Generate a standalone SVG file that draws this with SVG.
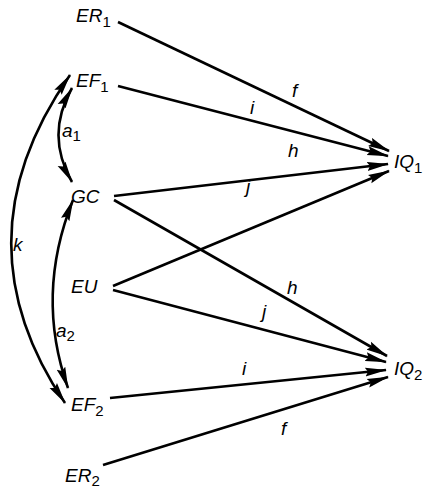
<svg xmlns="http://www.w3.org/2000/svg" width="428" height="490" viewBox="0 0 428 490">
<defs>
<marker id="ah" markerUnits="userSpaceOnUse" markerWidth="22" markerHeight="10" refX="21" refY="4.5" orient="auto-start-reverse" viewBox="0 0 22 9">
<path d="M0,0 L22,4.5 L0,9 L3,4.5 Z" fill="#000"/>
</marker>
</defs>
<style>
.t{font-family:"Liberation Sans",Arial,sans-serif;font-style:italic;font-size:19px;fill:#000}
.s{font-size:15px;font-style:normal}
.l{font-family:"Liberation Sans",Arial,sans-serif;font-style:italic;font-size:19px;fill:#000}
.e{stroke:#000;stroke-width:2.6;fill:none;marker-end:url(#ah)}
.d{stroke:#000;stroke-width:2.6;fill:none;marker-start:url(#ah);marker-end:url(#ah)}
</style>
<rect width="428" height="490" fill="#fff"/>
<g id="connectors">
<line class="e" x1="118" y1="22" x2="389" y2="151"/>
<line class="e" x1="118" y1="86" x2="388" y2="156"/>
<line class="e" x1="114" y1="196" x2="388" y2="164"/>
<line class="e" x1="113" y1="286" x2="389" y2="171"/>
<line class="e" x1="114" y1="200" x2="387" y2="356"/>
<line class="e" x1="113" y1="290" x2="386" y2="362"/>
<line class="e" x1="110" y1="398" x2="386" y2="370"/>
<line class="e" x1="103" y1="465" x2="388" y2="377"/>
<path class="d" d="M72,88 Q45,135 72,182"/>
<path class="d" d="M73,200 Q35,295 68,388"/>
<path class="d" d="M70,75 Q-45,240 65,403"/>
<text class="l" x="292" y="97">f</text>
<text class="l" x="250" y="114">i</text>
<text class="l" x="288" y="157">h</text>
<text class="l" x="246" y="193">j</text>
<text class="l" x="287" y="294">h</text>
<text class="l" x="262" y="318">j</text>
<text class="l" x="242" y="375">i</text>
<text class="l" x="281" y="435">f</text>
<text class="l" x="13" y="251">k</text>
<text class="l" x="62" y="137">a<tspan class="s" dy="4">1</tspan></text>
<text class="l" x="56" y="337">a<tspan class="s" dy="4">2</tspan></text>
</g>
<g id="ER1"><text class="t" x="76" y="22">ER<tspan class="s" dy="5">1</tspan></text></g>
<g id="EF1"><text class="t" x="76" y="87">EF<tspan class="s" dy="5">1</tspan></text></g>
<g id="GC"><text class="t" x="71" y="203">GC</text></g>
<g id="EU"><text class="t" x="71" y="293">EU</text></g>
<g id="EF2"><text class="t" x="71" y="411">EF<tspan class="s" dy="5">2</tspan></text></g>
<g id="ER2"><text class="t" x="65" y="482">ER<tspan class="s" dy="4">2</tspan></text></g>
<g id="IQ1"><text class="t" x="394" y="168">IQ<tspan class="s" dy="5">1</tspan></text></g>
<g id="IQ2"><text class="t" x="394" y="375">IQ<tspan class="s" dy="5">2</tspan></text></g>
</svg>
